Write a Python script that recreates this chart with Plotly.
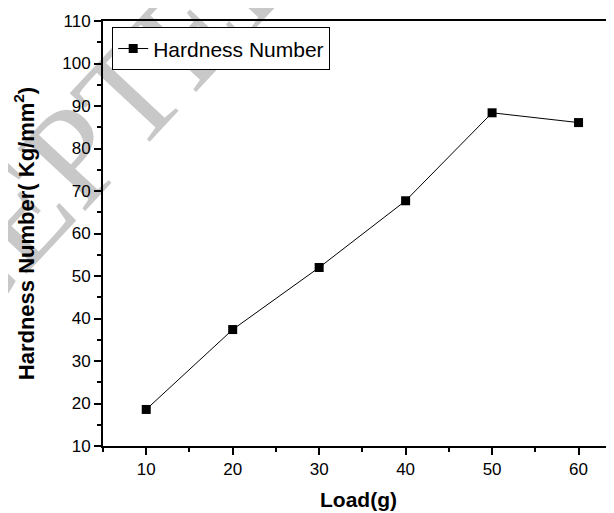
import plotly.graph_objects as go

load_g = [10, 20, 30, 40, 50, 60]
hardness = [18.6, 37.4, 52.0, 67.7, 88.4, 86.1]
series_name = "Hardness Number"
x_title = "Load(g)"
y_title = "Hardness Number( Kg/mm<sup>2</sup>)"
watermark = "ACCEPTED MANUSCRIPT"

fig = go.Figure()
fig.add_trace(go.Scatter(
    x=load_g, y=hardness, mode="lines+markers", name=series_name,
    line=dict(color="black", width=1),
    marker=dict(symbol="square", size=9, color="black"),
))

# watermark drawn below everything as a shape label
fig.add_shape(
    type="line", xref="paper", yref="paper",
    x0=0.49, y0=1.15, x1=0.69, y1=1.45, layer="below",
    line=dict(width=0, color="rgba(0,0,0,0)"),
    label=dict(text=watermark, textangle=-47, textposition="middle",
               font=dict(family="Liberation Serif", size=140, color="rgb(200,200,200)")),
)

fig.update_layout(
    width=606, height=505,
    margin=dict(l=95, r=0, t=13, b=67),
    paper_bgcolor="white", plot_bgcolor="rgba(0,0,0,0)",
    font=dict(family="Liberation Sans, Arial", size=17, color="black"),
    showlegend=True,
    legend=dict(x=0.018, y=0.985, xanchor="left", yanchor="top",
                bgcolor="white", bordercolor="black", borderwidth=1,
                font=dict(size=21), itemwidth=30),
)
fig.update_xaxes(
    range=[5, 64.1], dtick=10, tick0=0, showgrid=False, zeroline=False,
    showline=True, linecolor="black", linewidth=2, mirror=True,
    ticks="outside", ticklen=7, tickwidth=1.5, tickcolor="black",
    minor=dict(dtick=5, ticks="outside", ticklen=4, tickcolor="black", tickwidth=1.5),
    title=dict(text=x_title, font=dict(size=21, weight="bold"), standoff=14),
    automargin=False,
)
fig.update_yaxes(
    range=[10, 110], dtick=10, tick0=0, showgrid=False, zeroline=False,
    showline=True, linecolor="black", linewidth=2, mirror=False,
    ticks="outside", ticklen=7, tickwidth=1.5, tickcolor="black",
    minor=dict(dtick=5, ticks="outside", ticklen=4, tickcolor="black", tickwidth=1.5),
    title=dict(text=y_title, font=dict(size=22, weight="bold"), standoff=22),
    automargin=False,
)

fig.write_html("out.html")
